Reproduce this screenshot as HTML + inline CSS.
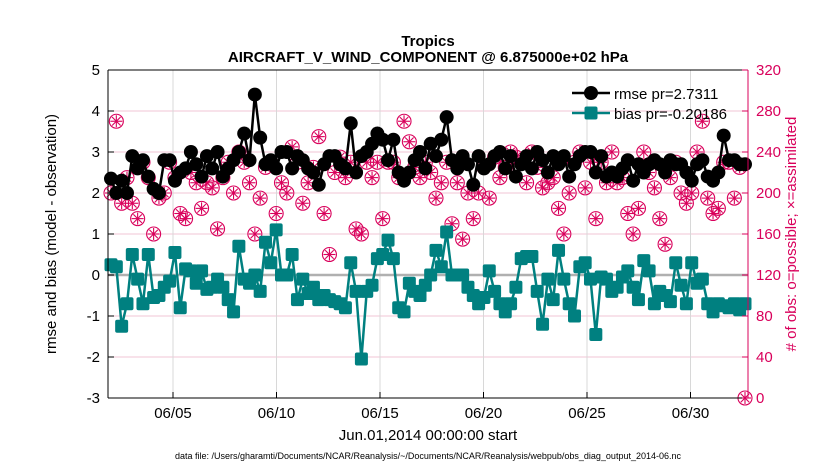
<!DOCTYPE html>
<html><head><meta charset="utf-8"><style>
body{margin:0;background:#fff;}
svg text{font-family:"Liberation Sans",sans-serif;}
</style></head><body>
<svg id="c" width="830" height="470" xmlns="http://www.w3.org/2000/svg">
<text x="428" y="46" text-anchor="middle" font-size="15" font-weight="bold">Tropics</text>
<text x="428" y="62" text-anchor="middle" font-size="15" font-weight="bold">AIRCRAFT_V_WIND_COMPONENT @ 6.875000e+02 hPa</text>
<g id="grid"></g><g id="marks"></g><g id="axes"></g>
<text transform="translate(56,234) rotate(-90)" text-anchor="middle" font-size="15">rmse and bias (model - observation)</text>
<text transform="translate(796,234) rotate(-90)" text-anchor="middle" font-size="15" fill="#d9005b"># of obs: o=possible; ×=assimilated</text>
<text x="428" y="440" text-anchor="middle" font-size="15">Jun.01,2014 00:00:00 start</text>
<text x="428" y="459" text-anchor="middle" font-size="9">data file: /Users/gharamti/Documents/NCAR/Reanalysis/~/Documents/NCAR/Reanalysis/webpub/obs_diag_output_2014-06.nc</text>
<g>
<line x1="572" y1="93" x2="610" y2="93" stroke="#000" stroke-width="2.5"/><circle cx="591" cy="93" r="7" fill="#000"/>
<text x="614" y="99" font-size="15">rmse pr=2.7311</text>
<line x1="572" y1="113" x2="610" y2="113" stroke="#008080" stroke-width="2.5"/><rect x="584.5" y="106.5" width="13" height="13" rx="2" fill="#008080"/>
<text x="614" y="119" font-size="15">bias pr=-0.20186</text>
</g>
</svg>
<script>
const rmse=[2.35,2.0,2.3,2.0,2.9,2.6,2.8,2.4,2.1,2.0,
2.8,2.8,2.3,2.5,2.6,3.0,2.7,2.4,2.9,2.6,
3.0,2.4,2.6,2.8,3.0,3.45,2.8,4.4,3.35,2.7,
2.8,2.6,3.0,3.0,2.6,2.9,2.8,2.6,2.5,2.2,
2.7,2.9,2.9,2.7,2.6,3.7,2.5,2.9,3.0,3.2,
3.45,3.3,2.8,3.3,2.5,2.3,2.5,2.8,3.0,2.6,
3.2,2.9,3.3,3.85,2.8,2.6,2.9,2.7,2.2,2.9,
2.6,2.7,2.9,3.0,2.6,2.9,2.4,2.7,2.9,2.6,
3.0,2.8,2.5,2.9,2.7,2.9,2.4,2.7,2.9,3.0,
3.0,2.5,2.9,2.4,2.5,2.4,2.6,2.8,2.3,2.7,
2.5,2.7,2.8,2.7,2.5,2.8,2.7,2.7,2.5,2.3,
2.7,2.8,2.4,2.3,2.5,3.4,2.8,2.8,2.7,2.7];
const bias=[0.25,0.2,-1.25,-0.7,0.5,-0.1,-0.7,0.5,
-0.55,-0.5,-0.3,-0.15,0.55,-0.8,0.15,0.1,
-0.2,0.1,-0.35,-0.3,-0.1,-0.3,-0.6,-0.9,
0.7,-0.1,-0.2,0.0,-0.4,0.8,0.3,1.1,
0.0,0.0,0.5,-0.6,-0.1,-0.45,-0.3,-0.6,
-0.5,-0.6,-0.65,-0.7,-0.8,0.3,-0.4,-2.05,
-0.4,-0.25,0.4,0.5,0.85,0.4,-0.8,-0.9,
-0.2,-0.4,-0.5,-0.25,0.0,0.6,0.2,1.05,
0.0,0.0,0.0,-0.3,-0.5,-0.7,-0.55,0.1,
-0.4,-0.7,-0.9,-0.7,-0.3,0.4,0.45,0.45,
-0.4,-1.2,-0.1,-0.6,0.6,-0.1,-0.7,-1.0,
0.2,0.3,-0.1,-1.45,-0.05,-0.1,-0.4,-0.3,
-0.05,0.1,-0.3,-0.6,0.35,0.1,-0.7,-0.4,
-0.5,-0.65,0.3,-0.25,-0.7,0.3,-0.2,-0.1,
-0.7,-0.9,-0.7,-0.75,-0.8,-0.7,-0.85,-0.7];
const nobs=[200,270,190,215,190,175,230,215,
160,195,200,230,215,180,175,220,
210,185,210,205,165,215,230,200,
240,230,210,160,195,225,230,180,
210,200,245,230,190,210,225,255,
180,140,220,235,215,230,165,160,
230,215,230,175,230,230,215,270,
250,225,215,230,220,195,210,230,
170,210,155,200,175,200,225,195,
235,215,225,240,235,230,210,240,
225,205,210,215,185,160,200,230,
240,205,230,175,230,210,240,210,
215,180,160,185,240,220,205,175,
150,215,230,200,190,200,240,270,
195,180,185,230,230,195,225,0];
const leftTicks=[-3,-2,-1,0,1,2,3,4,5];
const rightTicks=[0,40,80,120,160,200,240,280,320];
const xTickDays=[5,10,15,20,25,30];
const xTickLabels=["06/05","06/10","06/15","06/20","06/25","06/30"];

const NS="http://www.w3.org/2000/svg";
const L=108,R=748,T=70,B=398;
const yL=v=>B-(v+3)/8*(B-T);
const yR=v=>B-v/320*(B-T);
const xDay=d=>173+(d-5)*20.7;
const xIdx=i=>111+i*(745-111)/(rmse.length-1);
function mk(p,tag,a){const e=document.createElementNS(NS,tag);for(const k in a)e.setAttribute(k,a[k]);p.appendChild(e);return e;}
const grid=document.getElementById('grid'),marks=document.getElementById('marks'),axes=document.getElementById('axes');
rightTicks.forEach(v=>{const l=mk(grid,'line',{x1:L,x2:R,y1:yR(v),y2:yR(v),stroke:'#f2c6d6','stroke-width':1});

});
xTickDays.forEach((d,i)=>{const l=mk(grid,'line',{x1:xDay(d),x2:xDay(d),y1:T,y2:B,stroke:'#d8d8d8','stroke-width':1});


const t=mk(axes,'text',{x:xDay(d),y:418,'text-anchor':'middle','font-size':15});t.textContent=xTickLabels[i];


mk(axes,'line',{x1:xDay(d),x2:xDay(d),y1:B,y2:B-6,stroke:'#000'});});
const z=mk(grid,'line',{x1:L,x2:R,y1:yL(0),y2:yL(0),stroke:'#b0b0b0','stroke-width':2.5});


nobs.forEach((v,i)=>{const x=xIdx(i),y=yR(v);const g=mk(marks,'g',{stroke:'#d9005b','stroke-width':1.1,fill:'none'});


mk(g,'circle',{cx:x,cy:y,r:7});
for(let k=0;k<4;k++){const a=k*Math.PI/4;mk(g,'line',{x1:x-6*Math.cos(a),y1:y-6*Math.sin(a),x2:x+6*Math.cos(a),y2:y+6*Math.sin(a)});}});
const rp=mk(marks,'polyline',{points:rmse.map((v,i)=>xIdx(i)+','+yL(v)).join(' '),fill:'none',stroke:'#000','stroke-width':2.5});


rmse.forEach((v,i)=>{const c=mk(marks,'circle',{cx:xIdx(i),cy:yL(v),r:7,fill:'#000'});

});
const bp=mk(marks,'polyline',{points:bias.map((v,i)=>xIdx(i)+','+yL(v)).join(' '),fill:'none',stroke:'#008080','stroke-width':2.5});


bias.forEach((v,i)=>{const r=mk(marks,'rect',{x:xIdx(i)-6.5,y:yL(v)-6.5,width:13,height:13,rx:2,fill:'#008080'});

});
mk(axes,'line',{x1:L,x2:R,y1:T,y2:T,stroke:'#000'});
mk(axes,'line',{x1:L,x2:R,y1:B,y2:B,stroke:'#000'});
mk(axes,'line',{x1:L,x2:L,y1:T,y2:B,stroke:'#000'});
mk(axes,'line',{x1:R,x2:R,y1:T,y2:B,stroke:'#d9005b'});
leftTicks.forEach(v=>{mk(axes,'line',{x1:L,x2:L+6,y1:yL(v),y2:yL(v),stroke:'#000'});
const t=mk(axes,'text',{x:L-8,y:yL(v)+5,'text-anchor':'end','font-size':15});t.textContent=v;

});
rightTicks.forEach(v=>{mk(axes,'line',{x1:R-6,x2:R,y1:yR(v),y2:yR(v),stroke:'#d9005b'});
const t=mk(axes,'text',{x:R+8,y:yR(v)+5,'font-size':15,fill:'#d9005b'});t.textContent=v;

});
</script>
</body></html>
